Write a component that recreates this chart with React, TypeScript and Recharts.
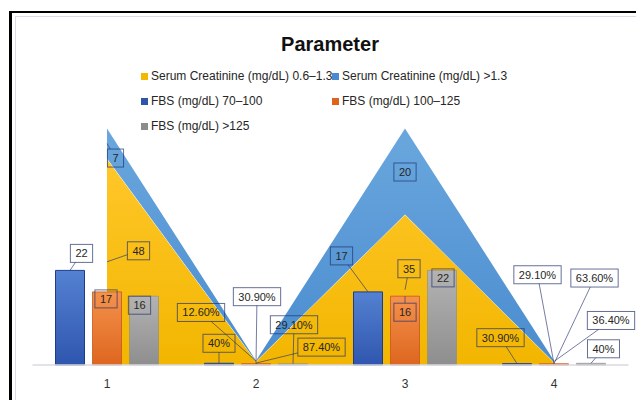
import React from 'react';
import { Area, Bar, ComposedChart, LabelList, XAxis, YAxis } from 'recharts';

const categories = ['1', '2', '3', '4'];
const scNormal = [48, 0.874, 35, 0.636];
const scHigh = [7, 0.126, 20, 0.364];
const fbsNormal = [22, 0.4, 17, 0.309];
const fbsPre = [17, 0.309, 16, 0.291];
const fbsHigh = [16, 0.291, 22, 0.4];

const rows = categories.map((cat, i) => ({
  cat,
  scNormal: scNormal[i],
  scHigh: scHigh[i],
  fbsNormal: fbsNormal[i],
  fbsPre: fbsPre[i],
  fbsHigh: fbsHigh[i],
}));

const W = 636;
const H = 400;
const MARGIN = { top: 128.5, right: 7.5, bottom: 5, left: 32.5 };
const X_H = 30;
const Y_MAX = 55;
const BASE_Y = H - MARGIN.bottom - X_H;
const PX = (BASE_Y - MARGIN.top) / Y_MAX;

const FONT = '"Liberation Sans", Arial, sans-serif';
const BOX_STROKE = '#24336f';

// label box centre relative to its anchor, per category
const LABEL_POS: Record<string, [number, number][]> = {
  fbsNormal: [[11.5, -17], [0, -20], [-26.5, -36], [-16.5, -26]],
  fbsPre: [[-1, 7], [1, -67], [0, 16], [-16.5, -89]],
  fbsHigh: [[-4.5, 9], [1, -39], [1, 7.5], [12.5, -14.5]],
  scNormal: [[31.5, -11], [65.5, -16], [4, -21], [40.5, -85.6]],
  scHigh: [[8.5, 14.5], [-55, -48.5], [0, 0.5], [57, -41]],
};

const legendItems = [
  { name: 'Serum Creatinine (mg/dL) 0.6–1.3', color: '#f5b800' },
  { name: 'Serum Creatinine (mg/dL) >1.3', color: '#4a8ad0' },
  { name: 'FBS (mg/dL) 70–100', color: '#2f55a8' },
  { name: 'FBS (mg/dL) 100–125', color: '#e0621c' },
  { name: 'FBS (mg/dL) >125', color: '#8c8c8c' },
];

function fmt(v: number) {
  if (v >= 1) return String(v);
  const p = Math.round(v * 10000) / 100;
  return Number.isInteger(p) ? `${p}%` : `${p.toFixed(2)}%`;
}

function textWidth(s: string, size: number) {
  let w = 0;
  for (const ch of s) w += ch === '.' ? 0.278 : ch === '%' ? 0.889 : 0.556;
  return w * size;
}

type Anchor = 'bar' | 'areaBottom' | 'areaTop';

function boxLabel(key: string, values: number[], anchor: Anchor) {
  return (props: any) => {
    const i = props.index;
    const v = values[i];
    const vb = props.viewBox || {};
    const px = props.x ?? vb.x;
    const py = props.y ?? vb.y;
    const pw = props.width ?? vb.width ?? 0;
    let ax = px;
    let ay = py;
    if (anchor === 'bar') ax = px + pw / 2;
    else if (anchor === 'areaBottom') ay = (py + BASE_Y) / 2;
    else ay = py + (v * PX) / 2;

    const [dx, dy] = LABEL_POS[key][i];
    const cx = ax + dx;
    const cy = ay + dy;
    const text = fmt(v);
    const bw = textWidth(text, 11) + 10;
    const bh = 18;

    // leader line from the anchor to the edge of the box
    let leader = null;
    const vx = ax - cx;
    const vy = ay - cy;
    const t = Math.min(
      vx === 0 ? Infinity : bw / 2 / Math.abs(vx),
      vy === 0 ? Infinity : bh / 2 / Math.abs(vy),
    );
    if (t < 1) {
      const ex = cx + vx * t;
      const ey = cy + vy * t;
      if (Math.hypot(ax - ex, ay - ey) > 6) {
        leader = <line x1={ex} y1={ey} x2={ax} y2={ay} stroke={BOX_STROKE} strokeOpacity={0.8} strokeWidth={0.8} />;
      }
    }

    return (
      <g>
        {leader}
        <rect
          x={cx - bw / 2}
          y={cy - bh / 2}
          width={bw}
          height={bh}
          fill="none"
          stroke={BOX_STROKE}
          strokeOpacity={0.7}
          strokeWidth={1}
        />
        <text
          x={cx}
          y={cy + 4}
          textAnchor="middle"
          fontSize={11}
          fontFamily={FONT}
          fill="#262626"
        >
          {text}
        </text>
      </g>
    );
  };
}

export default function App() {
  return (
    <div style={{ position: 'absolute', left: 0, top: 0, width: W, height: H, background: '#fff', overflow: 'hidden' }}>
      {/* frame */}
      <div style={{ position: 'absolute', left: 9, top: 11, width: 700, height: 500, borderLeft: '3px solid #000', borderTop: '2.5px solid #000' }} />
      <div style={{ position: 'absolute', left: 14.5, top: 15.5, width: 700, height: 500, borderLeft: '1.5px solid #dcdce6', borderTop: '1.5px solid #dcdce6' }} />

      <div
        style={{
          position: 'absolute',
          left: 0,
          width: W,
          top: 33,
          textAlign: 'center',
          fontFamily: FONT,
          fontWeight: 'bold',
          fontSize: 20,
          color: '#111',
          paddingLeft: 24,
          boxSizing: 'border-box',
        }}
      >
        Parameter
      </div>

      {/* legend laid out in two columns like the source */}
      <div style={{ position: 'absolute', left: 141, top: 69, width: 400, fontFamily: FONT, fontSize: 12, color: '#262626' }}>
        {legendItems.map((it, i) => (
          <div
            key={it.name}
            style={{
              position: 'absolute',
              left: i % 2 === 0 ? 0 : 191,
              top: Math.floor(i / 2) * 25,
              whiteSpace: 'nowrap',
              display: 'flex',
              alignItems: 'center',
            }}
          >
            <span style={{ display: 'inline-block', width: 7, height: 7, background: it.color, marginRight: 3 }} />
            {it.name}
          </div>
        ))}
      </div>

      <div style={{ position: 'absolute', left: 0, top: 0 }}>
        <ComposedChart width={W} height={H} data={rows} margin={MARGIN} barSize={29} barGap={8}>
          <defs>
            <linearGradient id="gYellow" x1="0" y1="0" x2="0" y2="1">
              <stop offset="0%" stopColor="#ffc72a" />
              <stop offset="100%" stopColor="#f2b600" />
            </linearGradient>
            <linearGradient id="gSky" x1="0" y1="0" x2="0" y2="1">
              <stop offset="0%" stopColor="#6aa7de" />
              <stop offset="100%" stopColor="#4a8ccf" />
            </linearGradient>
            <linearGradient id="gBlue" x1="0" y1="0" x2="0" y2="1">
              <stop offset="0%" stopColor="#5481d2" />
              <stop offset="100%" stopColor="#2f56ae" />
            </linearGradient>
            <linearGradient id="gOrange" x1="0" y1="0" x2="0" y2="1">
              <stop offset="0%" stopColor="#f5924c" />
              <stop offset="100%" stopColor="#dd661f" />
            </linearGradient>
            <linearGradient id="gGray" x1="0" y1="0" x2="0" y2="1">
              <stop offset="0%" stopColor="#b3b3b3" />
              <stop offset="100%" stopColor="#8e8e8e" />
            </linearGradient>
          </defs>
          <XAxis
            dataKey="cat"
            height={X_H}
            tickLine={false}
            tickMargin={8}
            axisLine={{ stroke: '#d9d9e0', strokeWidth: 1.5 }}
            tick={{ fontSize: 12, fill: '#333', fontFamily: FONT }}
          />
          <YAxis hide domain={[0, Y_MAX]} />
          <Area
            dataKey="scNormal"
            stackId="sc"
            type="linear"
            fill="url(#gYellow)"
            fillOpacity={1}
            stroke="#ffffff"
            strokeWidth={1}
            isAnimationActive={false}
          >
            <LabelList content={boxLabel('scNormal', scNormal, 'areaBottom')} />
          </Area>
          <Area
            dataKey="scHigh"
            stackId="sc"
            type="linear"
            fill="url(#gSky)"
            fillOpacity={1}
            stroke="none"
            isAnimationActive={false}
          >
            <LabelList content={boxLabel('scHigh', scHigh, 'areaTop')} />
          </Area>
          <Bar dataKey="fbsNormal" fill="url(#gBlue)" stroke="#1f3c8a" strokeWidth={1} isAnimationActive={false}>
            <LabelList content={boxLabel('fbsNormal', fbsNormal, 'bar')} />
          </Bar>
          <Bar dataKey="fbsPre" fill="url(#gOrange)" stroke="#c8561a" strokeWidth={0.8} isAnimationActive={false}>
            <LabelList content={boxLabel('fbsPre', fbsPre, 'bar')} />
          </Bar>
          <Bar dataKey="fbsHigh" fill="url(#gGray)" stroke="#8a8a8a" strokeWidth={0.6} isAnimationActive={false}>
            <LabelList content={boxLabel('fbsHigh', fbsHigh, 'bar')} />
          </Bar>
        </ComposedChart>
      </div>
    </div>
  );
}
